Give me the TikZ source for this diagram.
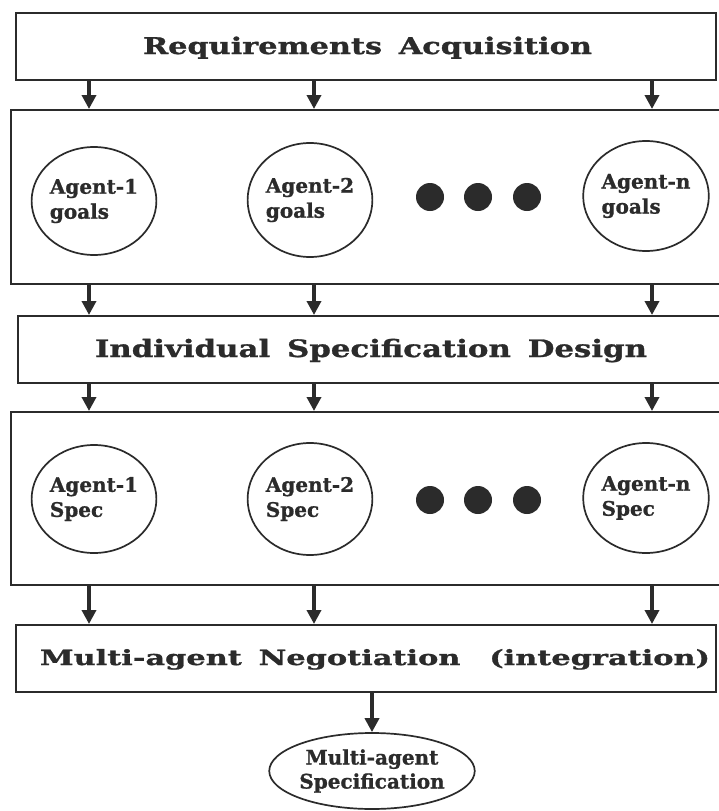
\documentclass[tikz,border=0pt]{standalone}
\usepackage{fontspec}
\setmainfont{DejaVu Serif}[BoldFeatures={FakeBold=1}]
\usepackage{graphicx}
\usetikzlibrary{arrows.meta,shapes.geometric}
\definecolor{ink}{HTML}{2B2B2B}
\newcommand\fitw[2]{\resizebox{#1}{\height}{#2}}
\newcommand\wsp{\hspace{0.55em}}
\tikzset{
  box/.style={draw=ink,line width=2pt,inner sep=0pt},
  title/.style={text=ink,inner sep=0pt,anchor=base,font=\bfseries},
  agent/.style={ellipse,draw=ink,line width=1.7pt,inner sep=0pt,
    minimum width=122pt,minimum height=108pt,align=left,text=ink,
    font=\bfseries\fontsize{20}{25}\selectfont},
  dotnode/.style={circle,fill=ink,inner sep=0pt,minimum size=28pt},
  arr/.style={draw=ink,line width=4pt,-{Triangle[length=14pt,width=14pt]}}
}
\begin{document}
\begin{tikzpicture}[x=1pt,y=-1pt]
\useasboundingbox[fill=white] (0,0) rectangle (719,811);
% column coordinates
\coordinate (c1) at (89,0);
\coordinate (c2) at (314,0);
\coordinate (c3) at (652,0);
% boxes
\node[box,minimum width=700pt,minimum height=67pt] (b1) at (366,46.5) {};
\node[box,minimum width=714pt,minimum height=174pt] (b2) at (368,197) {};
\node[box,minimum width=707pt,minimum height=67pt] (b3) at (371.5,349.5) {};
\node[box,minimum width=714pt,minimum height=173pt] (b4) at (368,498.5) {};
\node[box,minimum width=700pt,minimum height=67pt] (b5) at (366,658.5) {};
% titles
\node[title,font=\bfseries\fontsize{23}{27}\selectfont] (t1) at (367.5,54)
  {\fitw{449pt}{Requirements\wsp Acquisition}};
\node[title,font=\bfseries\fontsize{24}{28}\selectfont] (t3) at (371,357)
  {\fitw{552pt}{Individual\wsp Specification\wsp Design}};
\node[title,font=\bfseries\fontsize{21}{25}\selectfont] (t5) at (375,665)
  {\fitw{670pt}{Multi-agent\wsp Negotiation\wsp\hspace{0.4em}(integration)}};
% goals row
\node[agent] (g1) at (94,201) {Agent-1\\goals};
\node[agent,minimum height=114pt] (g2) at (310,200) {Agent-2\\goals};
\node[agent,minimum height=110pt] (gn) at (646,196) {Agent-n\\goals};
\node[dotnode] (d1) at (430,197) {};
\node[dotnode] (d2) at (478,197) {};
\node[dotnode] (d3) at (527,197) {};
% spec row
\node[agent] (s1) at (94,499) {Agent-1\\Spec};
\node[agent,minimum height=112pt] (s2) at (310,499) {Agent-2\\Spec};
\node[agent,minimum height=110pt] (sn) at (646,498) {Agent-n\\Spec};
\node[dotnode] (e1) at (430,500) {};
\node[dotnode] (e2) at (478,500) {};
\node[dotnode] (e3) at (527,500) {};
% final
\node[ellipse,draw=ink,line width=1.7pt,inner sep=0pt,minimum width=190pt,
  minimum height=76pt,align=center,text=ink,
  font=\bfseries\fontsize{20}{24}\selectfont] (f) at (372,771)
  {Multi-agent\\Specification};
% arrows
\foreach \c in {c1,c2,c3}{
  \draw[arr] (b1.south -| \c) -- (b2.north -| \c);
  \draw[arr] (b2.south -| \c) -- (b3.north -| \c);
  \draw[arr] (b3.south -| \c) -- (b4.north -| \c);
  \draw[arr] (b4.south -| \c) -- (b5.north -| \c);
}
\draw[arr] (b5.south -| f) -- (f.north);
\end{tikzpicture}
\end{document}
